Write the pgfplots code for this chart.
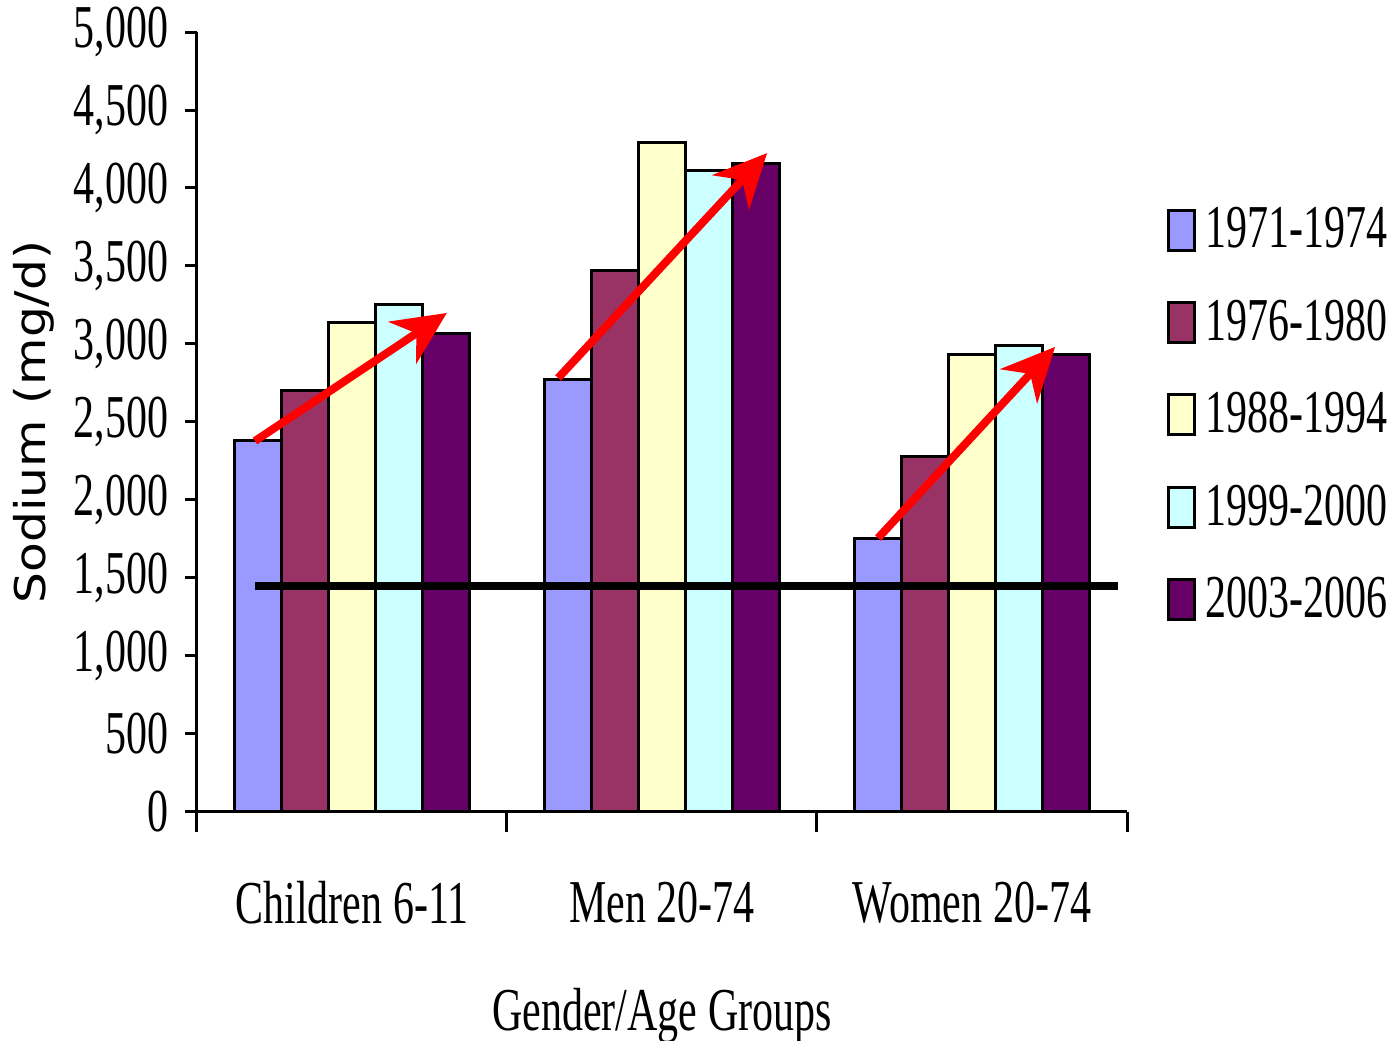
\documentclass[border=0pt]{standalone}
\usepackage{fontspec}
\setmainfont{Liberation Serif}
\newfontfamily\labelsans{DejaVu Sans}
\usepackage{pgfplots}
\pgfplotsset{compat=1.18}
\usetikzlibrary{arrows.meta}

\definecolor{cA}{HTML}{9999FF}
\definecolor{cB}{HTML}{993366}
\definecolor{cC}{HTML}{FFFFCC}
\definecolor{cD}{HTML}{CCFFFF}
\definecolor{cE}{HTML}{660066}

% the original text is stretched vertically
\newcommand{\tall}[1]{\scalebox{1}[1.45]{#1}}

\begin{document}
\begin{tikzpicture}
\useasboundingbox (0,0) rectangle (417.9pt,312.3pt);
\begin{axis}[
  at={(59.1pt,68.7pt)}, anchor=south west,
  scale only axis, width=279pt, height=234pt,
  ybar=0pt, bar width=0.152,
  legend image code/.code={\draw[#1, line width=0.9pt] (0pt,-6pt) rectangle (7.8pt,6pt);},
  xmin=-0.5, xmax=2.5, ymin=0, ymax=5000,
  axis x line*=bottom, axis y line*=left,
  axis line style={line width=0.9pt, -},
  xtick={0,1,2},
  xticklabels={\tall{Children 6-11},\tall{Men 20-74},\tall{Women 20-74}},
  major x tick style={draw=none},
  minor xtick={-0.5,0.5,1.5,2.5},
  minor tick length=6pt,
  ytick={0,500,...,5000},
  major tick length=3.6pt,
  tick align=outside,
  tick style={line width=0.9pt, black},
  yticklabel={\tall{\pgfmathprintnumber{\tick}}},
  /pgf/number format/1000 sep={,},
  /pgf/number format/assume math mode=true,
  tick label style={font=\fontsize{12.6}{14}\selectfont, inner sep=0pt},
  xticklabel style={anchor=center, yshift=-23.7pt},
  yticklabel style={anchor=east, xshift=-4.8pt},
  xlabel={\tall{Gender/Age Groups}},
  xlabel style={at={(axis description cs:0.5,-0.262)}, anchor=center, inner sep=0pt, font=\fontsize{12.6}{14}\selectfont},
  ylabel={\scalebox{1.15}[1]{Sodium (mg/d)}},
  ylabel style={at={(axis description cs:-0.176,0.5)}, anchor=center, inner sep=0pt, font=\labelsans\fontsize{12.7}{14}\selectfont},
  legend style={at={(1.0425,0.776)}, anchor=north west, draw=none, fill=none,
    inner sep=0pt, row sep=14.1pt, column sep=2.7pt,
    nodes={inner sep=0pt, anchor=west},
    font=\fontsize{12.6}{14}\selectfont},
  legend cell align=left,
]
\addplot[fill=cA, draw=black, line width=0.9pt] coordinates {(0,2380) (1,2770) (2,1750)};
\addlegendentry{\tall{1971-1974}}
\addplot[fill=cB, draw=black, line width=0.9pt] coordinates {(0,2700) (1,3470) (2,2280)};
\addlegendentry{\tall{1976-1980}}
\addplot[fill=cC, draw=black, line width=0.9pt] coordinates {(0,3140) (1,4290) (2,2930)};
\addlegendentry{\tall{1988-1994}}
\addplot[fill=cD, draw=black, line width=0.9pt] coordinates {(0,3250) (1,4110) (2,2990)};
\addlegendentry{\tall{1999-2000}}
\addplot[fill=cE, draw=black, line width=0.9pt] coordinates {(0,3070) (1,4160) (2,2930)};
\addlegendentry{\tall{2003-2006}}

\draw[black, line width=2.4pt] (axis cs:-0.313,1450) -- (axis cs:2.471,1450);
\draw[red, line width=2.4pt, -{Stealth[length=16pt,width=15pt,inset=5pt]}]
  (axis cs:-0.313,2378) -- (axis cs:0.306,3199);
\draw[red, line width=2.4pt, -{Stealth[length=16pt,width=15pt,inset=5pt]}]
  (axis cs:0.665,2782) -- (axis cs:1.339,4224);
\draw[red, line width=2.4pt, -{Stealth[length=16pt,width=15pt,inset=5pt]}]
  (axis cs:1.697,1756) -- (axis cs:2.268,2981);
\end{axis}
\end{tikzpicture}
\end{document}
